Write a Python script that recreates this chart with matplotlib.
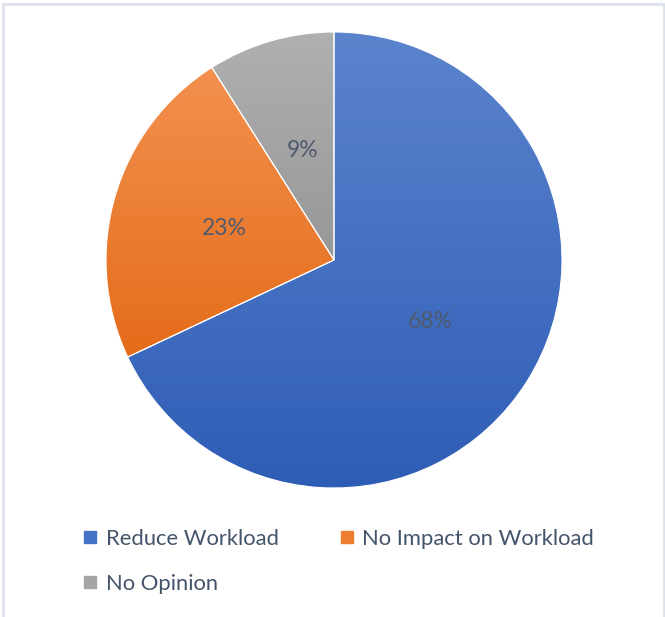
import numpy as np
import matplotlib.pyplot as plt
from matplotlib.colors import LinearSegmentedColormap
from matplotlib.lines import Line2D
from matplotlib.patches import Rectangle

labels = ["Reduce Workload", "No Impact on Workload", "No Opinion"]
shares = [68, 23, 9]
# top / bottom colour of each slice's vertical gradient
tops = ["#5b84cd", "#f3914f", "#b0b0b0"]
bottoms = ["#2e5db6", "#e46c1a", "#979797"]
solid = ["#4472c4", "#ed7d31", "#a5a5a5"]

W, H = 665, 617
cx, cy, R = 334, 260, 228

plt.rcParams['font.family'] = ['Lato', 'DejaVu Sans']
fig = plt.figure(figsize=(W / 100, H / 100), dpi=100)
ax = fig.add_axes([(cx - R) / W, (H - cy - R) / H, 2 * R / W, 2 * R / H])

wedges, texts, autotexts = ax.pie(
    shares, startangle=90, counterclock=False, radius=1,
    autopct='%1.0f%%', pctdistance=0.5,
    wedgeprops=dict(edgecolor='white', linewidth=0.8),
    textprops=dict(color='#4f5a6e', fontsize=16.5))

grad = np.linspace(0, 1, 256).reshape(-1, 1)
for w, top, bot in zip(wedges, tops, bottoms):
    # fill each slice with a gradient running over its own height
    ys = w.get_path().transformed(w.get_patch_transform()).vertices[:, 1]
    cmap = LinearSegmentedColormap.from_list('g', [top, bot])
    w.set_facecolor('none')
    im = ax.imshow(grad, cmap=cmap, aspect='auto',
                   extent=(-1, 1, ys.min(), ys.max()), origin='upper', zorder=0.5)
    im.set_clip_path(w)

ax.set_xlim(-1, 1)
ax.set_ylim(-1, 1)
ax.axis('off')

handles = [Line2D([], [], marker='s', linestyle='none', markersize=9,
                  markerfacecolor=c, markeredgecolor=c) for c in solid]
order = [0, 2, 1]
fig.legend([handles[i] for i in order], [labels[i] for i in order],
           loc='upper left', bbox_to_anchor=(64 / W, 1 - 509 / H),
           ncol=2, frameon=False, fontsize=15.8, labelcolor='#44546a',
           handlelength=0.6, handletextpad=0.4, columnspacing=2.8,
           labelspacing=1.15)

fig.patches.append(Rectangle((2.5 / W, -0.02), 1 - 4 / W, 1 + 0.02 - 3.5 / H,
                             transform=fig.transFigure, fill=False,
                             edgecolor='#dde1ea', linewidth=2))

fig.savefig('out.png', dpi=100)
